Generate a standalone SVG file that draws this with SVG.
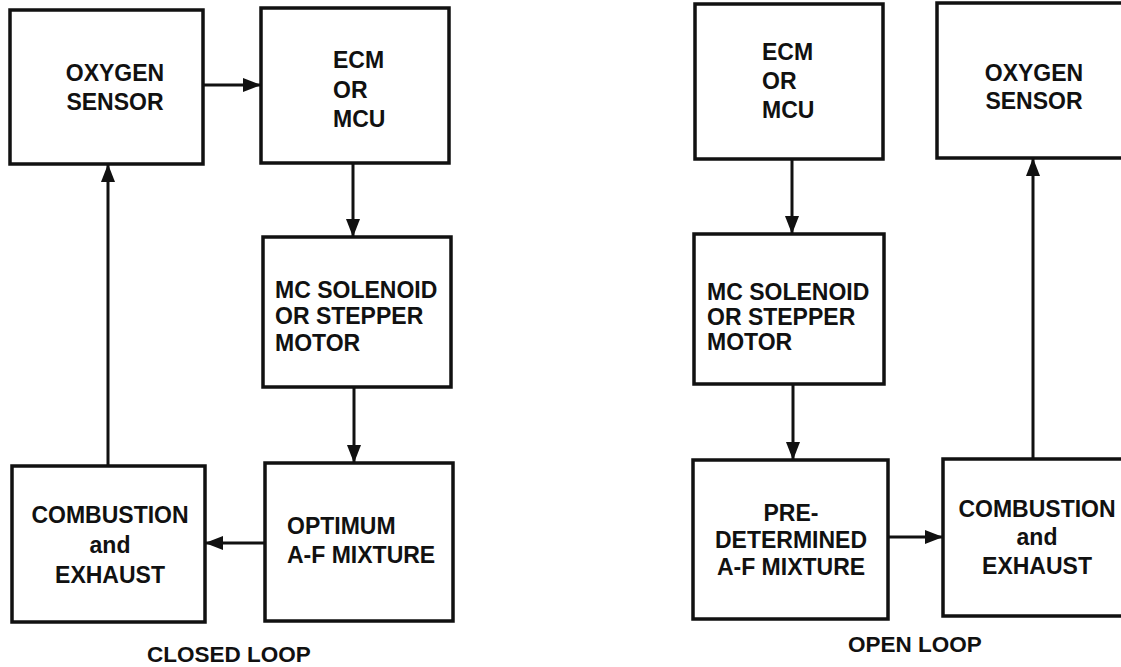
<svg xmlns="http://www.w3.org/2000/svg" width="1121" height="667" viewBox="0 0 1121 667">
<style>
.box{fill:none;stroke:#111;stroke-width:3.5}
.t{font-family:"Liberation Sans",Arial,sans-serif;font-weight:bold;font-size:23px;fill:#111}
.c{text-anchor:middle}
.cap{font-family:"Liberation Sans",Arial,sans-serif;font-weight:bold;font-size:22.5px;fill:#111}
.ln{fill:none;stroke:#111;stroke-width:3}
</style>
<defs>
<marker id="ah" markerUnits="userSpaceOnUse" markerWidth="18" markerHeight="14" refX="17" refY="7" orient="auto">
<path d="M0,0 L18,7 L0,14 Z" fill="#111"/>
</marker>
</defs>
<rect width="1121" height="667" fill="#fff"/>

<g id="closed-oxygen">
<rect class="box" x="10" y="10" width="193" height="154"/>
<text class="t c" x="115" y="81">OXYGEN</text>
<text class="t c" x="115" y="110">SENSOR</text>
</g>
<g id="closed-ecm">
<rect class="box" x="261" y="8" width="188" height="155"/>
<text class="t" x="333" y="68">ECM</text>
<text class="t" x="333" y="98">OR</text>
<text class="t" x="333" y="127">MCU</text>
</g>
<g id="closed-mc">
<rect class="box" x="263" y="237" width="188" height="150"/>
<text class="t" x="275" y="298">MC SOLENOID</text>
<text class="t" x="275" y="324">OR STEPPER</text>
<text class="t" x="275" y="351">MOTOR</text>
</g>
<g id="closed-optimum">
<rect class="box" x="265" y="463" width="188" height="158"/>
<text class="t" x="287" y="534">OPTIMUM</text>
<text class="t" x="287" y="563">A-F MIXTURE</text>
</g>
<g id="closed-combustion">
<rect class="box" x="12" y="466" width="193" height="156"/>
<text class="t c" x="110" y="523">COMBUSTION</text>
<text class="t c" x="110" y="553">and</text>
<text class="t c" x="110" y="583">EXHAUST</text>
</g>
<text id="closed-caption" class="cap" x="147" y="662">CLOSED LOOP</text>

<g id="open-ecm">
<rect class="box" x="695" y="4" width="188" height="155"/>
<text class="t" x="762" y="60">ECM</text>
<text class="t" x="762" y="89">OR</text>
<text class="t" x="762" y="118">MCU</text>
</g>
<g id="open-oxygen">
<rect class="box" x="937" y="3" width="190" height="155"/>
<text class="t c" x="1034" y="81">OXYGEN</text>
<text class="t c" x="1034" y="109">SENSOR</text>
</g>
<g id="open-mc">
<rect class="box" x="694" y="234" width="190" height="150"/>
<text class="t" x="707" y="300">MC SOLENOID</text>
<text class="t" x="707" y="325">OR STEPPER</text>
<text class="t" x="707" y="350">MOTOR</text>
</g>
<g id="open-pre">
<rect class="box" x="693" y="460" width="195" height="159"/>
<text class="t c" x="791" y="521">PRE-</text>
<text class="t c" x="791" y="548">DETERMINED</text>
<text class="t c" x="791" y="575">A-F MIXTURE</text>
</g>
<g id="open-combustion">
<rect class="box" x="943" y="459" width="190" height="157"/>
<text class="t c" x="1037" y="517">COMBUSTION</text>
<text class="t c" x="1037" y="545">and</text>
<text class="t c" x="1037" y="574">EXHAUST</text>
</g>
<text id="open-caption" class="cap" x="848" y="652">OPEN LOOP</text>

<g id="connectors">
<line class="ln" x1="203" y1="85" x2="260" y2="85" marker-end="url(#ah)"/>
<line class="ln" x1="353" y1="163" x2="353" y2="236" marker-end="url(#ah)"/>
<line class="ln" x1="354" y1="387" x2="354" y2="462" marker-end="url(#ah)"/>
<line class="ln" x1="265" y1="543" x2="206" y2="543" marker-end="url(#ah)"/>
<line class="ln" x1="108" y1="466" x2="108" y2="165" marker-end="url(#ah)"/>
<line class="ln" x1="792" y1="159" x2="792" y2="233" marker-end="url(#ah)"/>
<line class="ln" x1="793" y1="384" x2="793" y2="459" marker-end="url(#ah)"/>
<line class="ln" x1="888" y1="537" x2="942" y2="537" marker-end="url(#ah)"/>
<line class="ln" x1="1033" y1="459" x2="1033" y2="159" marker-end="url(#ah)"/>
</g>
</svg>
